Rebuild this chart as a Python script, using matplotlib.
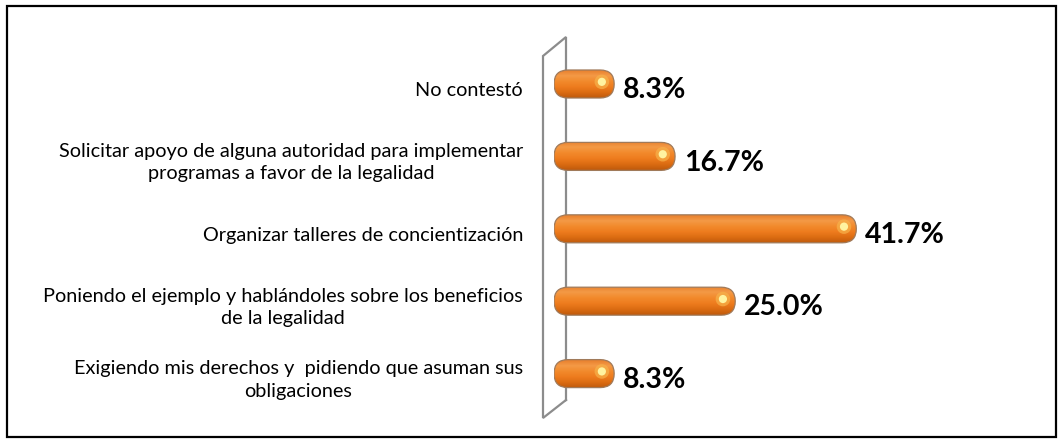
import numpy as np
import matplotlib.pyplot as plt
from matplotlib.patches import FancyBboxPatch, Rectangle
from matplotlib.colors import LinearSegmentedColormap

categories = [
    "Exigiendo mis derechos y  pidiendo que asuman sus\nobligaciones",
    "Poniendo el ejemplo y hablándoles sobre los beneficios\nde la legalidad",
    "Organizar talleres de concientización",
    "Solicitar apoyo de alguna autoridad para implementar\nprogramas a favor de la legalidad",
    "No contestó",
]
values = [8.3, 25.0, 41.7, 16.7, 8.3]
labels = ["8.3%", "25.0%", "41.7%", "16.7%", "8.3%"]

W, H = 1063, 444
fig = plt.figure(figsize=(W / 100, H / 100), dpi=100)

# background layer in pixel units: outer frame and the 3D wall
bg = fig.add_axes([0, 0, 1, 1], zorder=0)
bg.set_xlim(0, W)
bg.set_ylim(H, 0)
bg.axis("off")
bg.add_patch(Rectangle((7, 6), 1049, 431, fill=False, ec="black", lw=1.6))
wall_x = [566, 566, 543, 543, 566]
wall_y = [400, 37, 56, 418, 400]
bg.plot(wall_x, wall_y, color="#8c8c8c", lw=1.6, solid_joinstyle="miter")

# main chart
px_per_unit = 7.25
ax_left = 554
xmax = 70
ax = fig.add_axes([ax_left / W, (H - 409.8) / H, xmax * px_per_unit / W, 362 / H], zorder=1)
ax.patch.set_alpha(0)
ax.axis("off")
ypos = np.arange(len(values))

bar_h = 28 / 72.4          # bar thickness in y units
r_x = 14 / px_per_unit     # rounding radius in x units
aspect = (14 / 72.4) / r_x

cmap = LinearSegmentedColormap.from_list(
    "tube", ["#bf5a0c", "#dc6c12", "#ee7c1e", "#f28a2c", "#f49a46", "#e8802e"])
grad = np.linspace(0, 1, 64).reshape(-1, 1)

for y, v, lab, cat in zip(ypos, values, labels, categories):
    patch = FancyBboxPatch((0, y - bar_h / 2), v, bar_h,
                           boxstyle=f"round,pad=0,rounding_size={r_x}",
                           mutation_aspect=aspect, fc="none",
                           ec="#a07a5a", lw=0.9, zorder=3)
    ax.add_patch(patch)
    im = ax.imshow(grad, extent=[0, v, y - bar_h / 2, y + bar_h / 2],
                   origin="lower", aspect="auto", cmap=cmap, zorder=2)
    im.set_clip_path(patch)
    ax.scatter([v - 1.7], [y + 0.03], s=110, color="#f7b24a", alpha=0.7,
               edgecolors="none", zorder=4)
    ax.scatter([v - 1.7], [y + 0.03], s=35, color="#fff3a0",
               edgecolors="none", zorder=5)
    # value label, a bit below the bar centre
    ax.annotate(lab, (v, y), xytext=(6.5, -4.5), textcoords="offset points",
                ha="left", va="center", fontsize=20.5, fontweight="bold",
                family="Lato", color="black")
    # category label
    ax.annotate(cat, (0, y), xycoords=("axes fraction", "data"),
                xytext=(-22.3, -4.5), textcoords="offset points",
                ha="right", va="center", multialignment="center",
                fontsize=14.3, family="Lato", linespacing=1.4)

ax.set_xlim(0, xmax)
ax.set_ylim(-0.5, len(values) - 0.5)

fig.savefig("out.png", dpi=100)
